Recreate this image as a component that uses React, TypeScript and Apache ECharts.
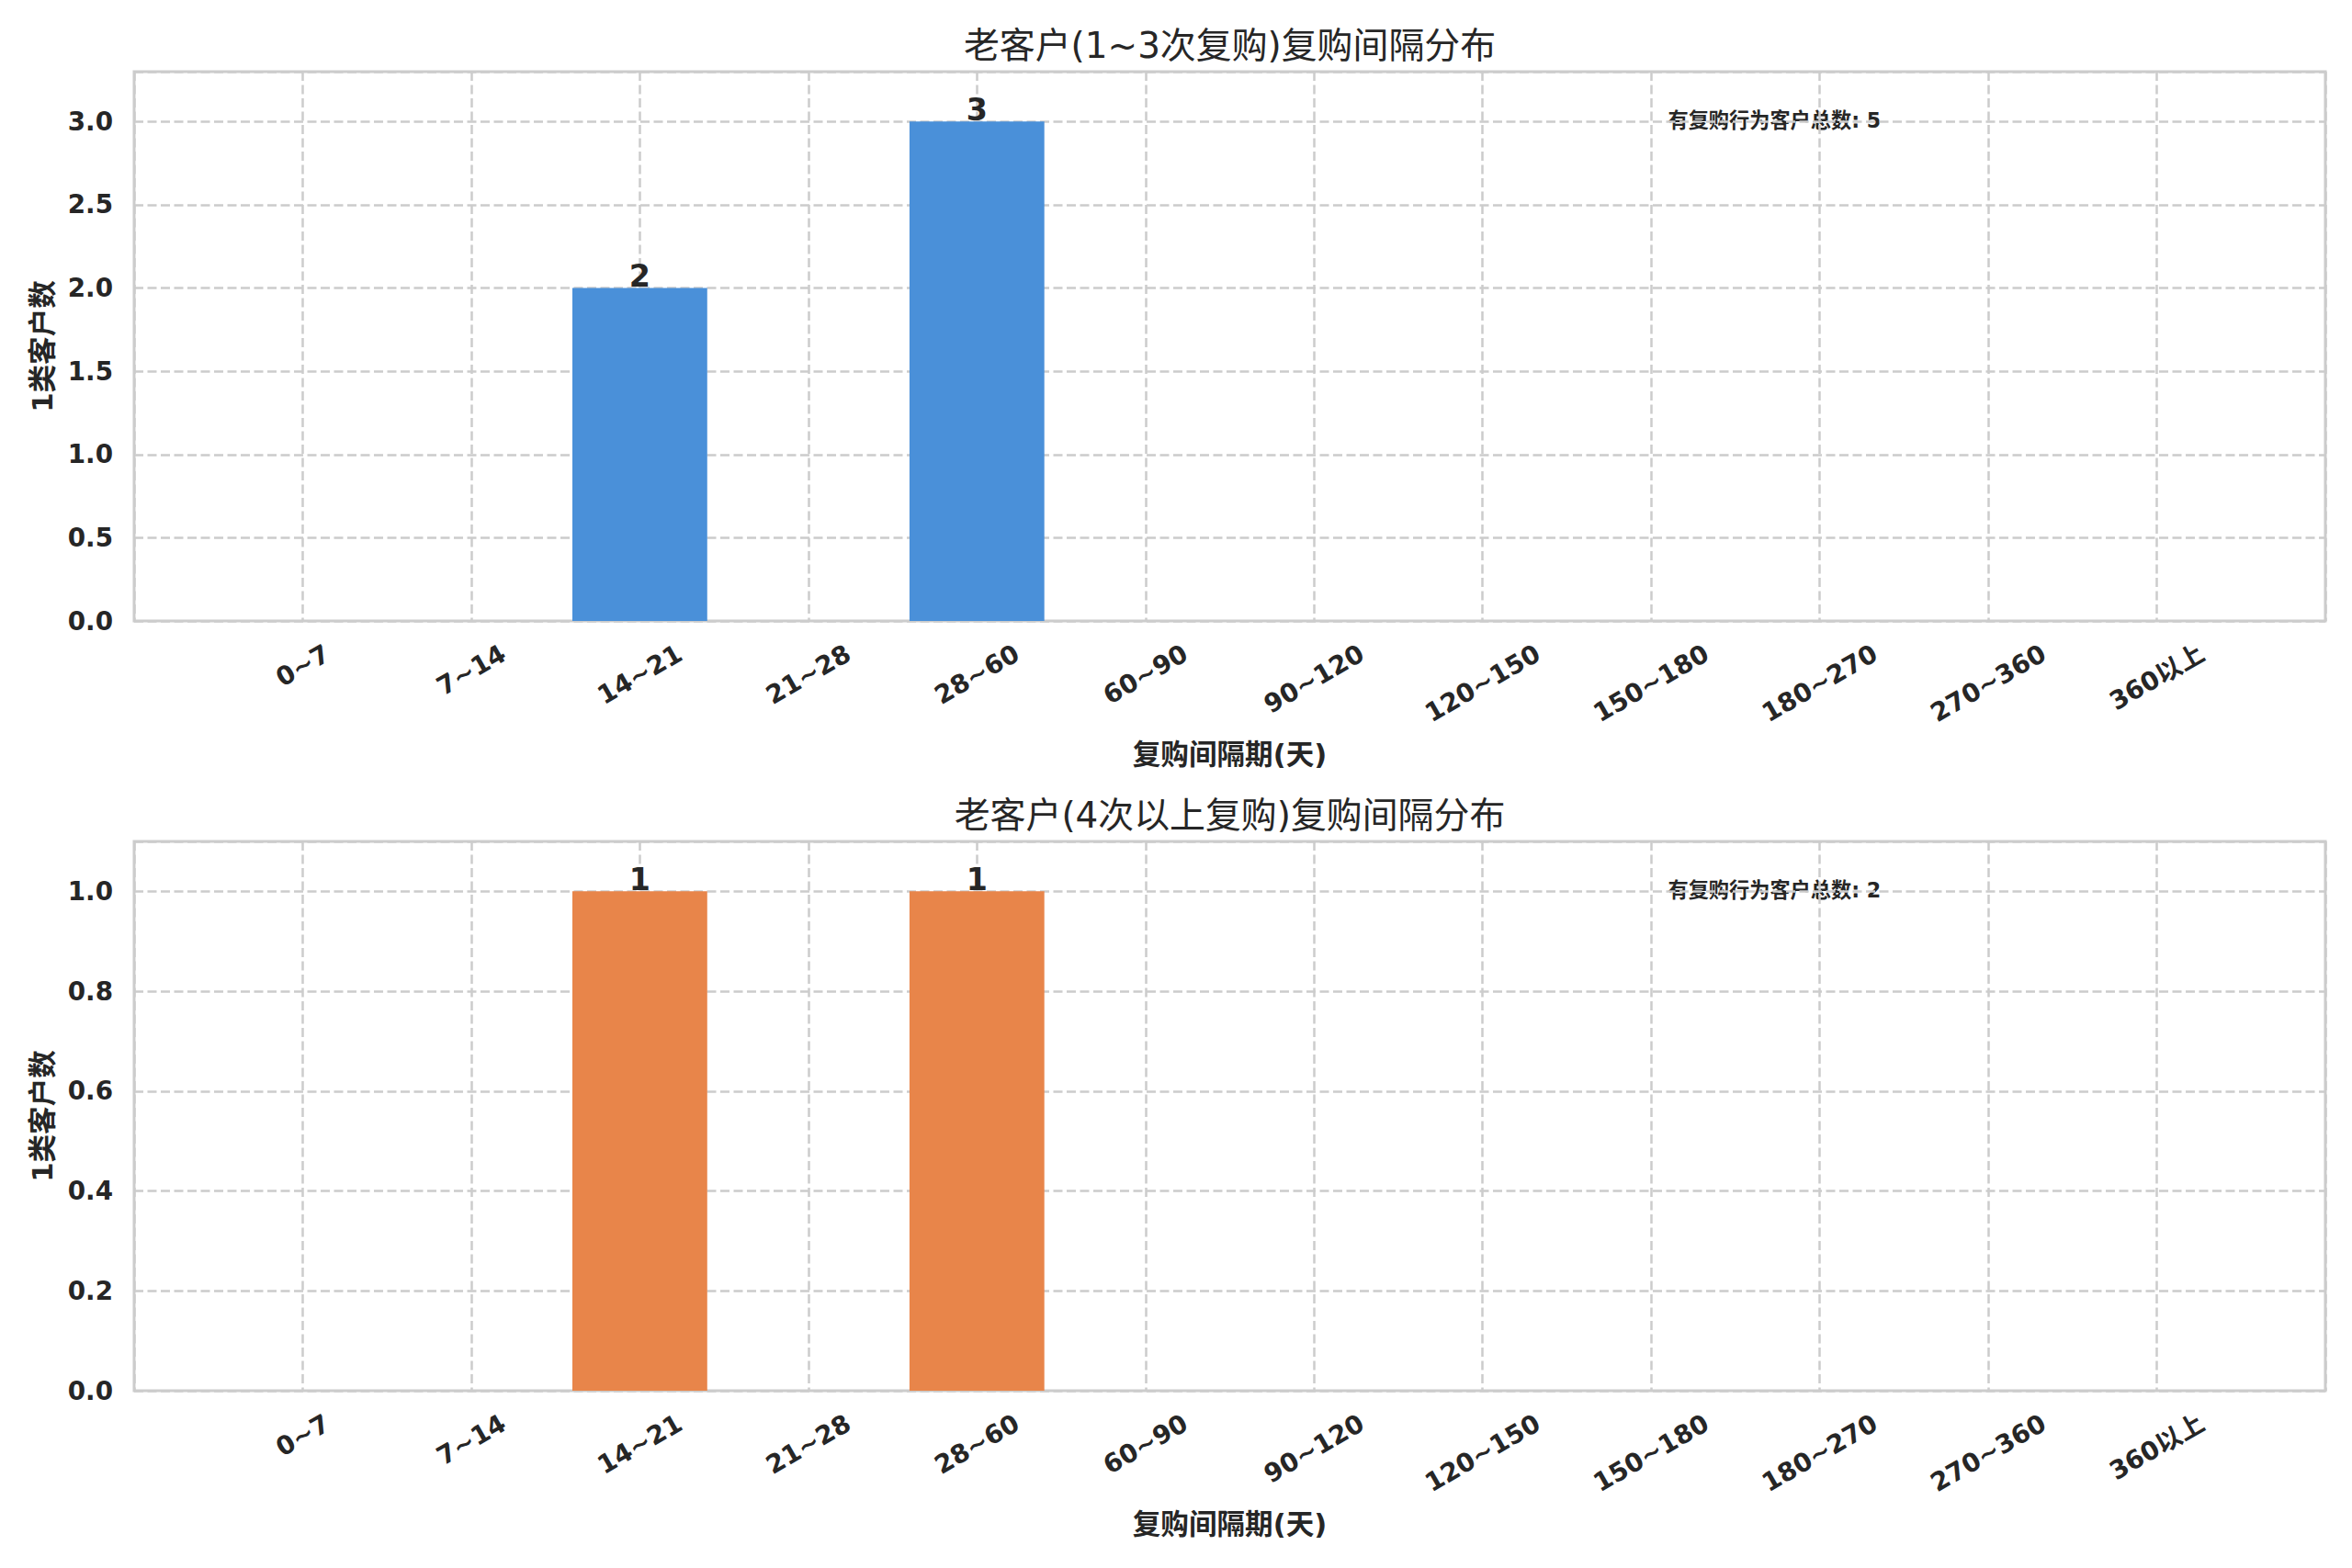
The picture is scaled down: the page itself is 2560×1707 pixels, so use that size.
import React, { useEffect, useRef } from 'react';
import * as echarts from 'echarts';

// ---------- data ----------
const categories = ['0~7', '7~14', '14~21', '21~28', '28~60', '60~90', '90~120', '120~150', '150~180', '180~270', '270~360', '360以上'];
const lowFreqCounts = [0, 0, 2, 0, 3, 0, 0, 0, 0, 0, 0, 0];
const highFreqCounts = [0, 0, 1, 0, 1, 0, 0, 0, 0, 0, 0, 0];
const panelTitles = ['老客户(1~3次复购)复购间隔分布', '老客户(4次以上复购)复购间隔分布'];
const xAxisTitle = '复购间隔期(天)';
const yAxisTitle = '1类客户数';
const totalLabel = '有复购行为客户总数';
const panelTotals = [5, 2];
const yMaxes = [3.3, 1.1];
const yIntervals = [0.5, 0.2];
const barColors = ['#4A90D9', '#E8854A'];

// ---------- layout / style ----------
const W = 2560;
const H = 1707;
const FONT = '"DejaVu Sans", "Noto Sans CJK SC", sans-serif';
const TEXT = '#262626';
const GRID_LEFT = 146;
const GRID_RIGHT = 29;
const GRID_TOPS = [78, 916];
const GRID_H = 598;
const TICK_FS = 27.8;

function measure(text: string, font: string): number {
  const c = document.createElement('canvas');
  const ctx = c.getContext('2d');
  if (!ctx) return text.length * 18;
  ctx.font = font;
  return ctx.measureText(text).width;
}

export default function App() {
  const ref = useRef<HTMLDivElement>(null);
  useEffect(() => {
    document.body.style.margin = '0';
    document.body.style.overflow = 'hidden';
    if (!ref.current) return;
    const chart = echarts.init(ref.current, undefined, { renderer: 'svg' });

    // emulate matplotlib's centred rotated tick labels (fixed bbox top)
    const rich: Record<string, any> = {};
    categories.forEach((c, i) => {
      const w = measure(c, `bold ${TICK_FS}px ${FONT}`);
      const d = w / 4;
      rich['r' + i] = {
        fontSize: TICK_FS,
        fontWeight: 'bold',
        fontFamily: FONT,
        color: TEXT,
        padding: [1.732 * d, d, 0, 0],
      };
    });

    const gridW = W - GRID_LEFT - GRID_RIGHT;
    const unit = gridW / 13;
    const barW = unit * 0.8;
    const dash = { color: '#cccccc', width: 2.5, type: [10, 4.5] as any };
    const series = [lowFreqCounts, highFreqCounts];

    const grids = GRID_TOPS.map((t) => ({
      left: GRID_LEFT,
      right: GRID_RIGHT,
      top: t,
      height: GRID_H,
      show: true,
      borderColor: '#cccccc',
      borderWidth: 3,
      backgroundColor: 'transparent',
    }));

    const xAxes = GRID_TOPS.map((_, i) => ({
      type: 'value',
      gridIndex: i,
      min: -1,
      max: 12,
      interval: 1,
      axisLine: { show: false },
      axisTick: { show: false },
      splitLine: { show: true, lineStyle: dash },
      axisLabel: {
        margin: 33,
        rotate: 30,
        align: 'center',
        verticalAlign: 'middle',
        formatter: (v: number) => {
          const k = Math.round(v);
          if (Math.abs(v - k) > 1e-6 || k < 0 || k >= categories.length) return '';
          return `{r${k}|${categories[k]}}`;
        },
        rich,
      },
      name: xAxisTitle,
      nameLocation: 'middle',
      nameGap: 130,
      nameTextStyle: { fontSize: 30.6, fontWeight: 'bold', color: TEXT, fontFamily: FONT },
    }));

    const yAxes = GRID_TOPS.map((_, i) => ({
      type: 'value',
      gridIndex: i,
      min: 0,
      max: yMaxes[i],
      interval: yIntervals[i],
      axisLine: { show: false },
      axisTick: { show: false },
      splitLine: { show: true, lineStyle: dash },
      axisLabel: {
        margin: 23,
        fontSize: TICK_FS,
        fontWeight: 'bold',
        color: TEXT,
        fontFamily: FONT,
        formatter: (v: number) => {
          const r = v / yIntervals[i];
          if (Math.abs(r - Math.round(r)) > 1e-6) return '';
          return v.toFixed(1);
        },
      },
      name: yAxisTitle,
      nameLocation: 'middle',
      nameRotate: 90,
      nameGap: 84,
      nameTextStyle: { fontSize: 30.6, fontWeight: 'bold', color: TEXT, fontFamily: FONT },
    }));

    const seriesOpts = series.map((vals, i) => ({
      type: 'bar',
      xAxisIndex: i,
      yAxisIndex: i,
      data: vals.map((v, k) => [k, v]),
      barWidth: barW,
      itemStyle: { color: barColors[i] },
      label: {
        show: true,
        position: 'top',
        distance: 0,
        offset: [0, 4],
        formatter: (p: any) => (p.value[1] > 0 ? String(p.value[1]) : ''),
        fontSize: 33.3,
        fontWeight: 'bold',
        color: TEXT,
        fontFamily: FONT,
      },
    }));

    const centerX = GRID_LEFT + gridW / 2;
    const graphics: any[] = [];
    GRID_TOPS.forEach((t, i) => {
      graphics.push({
        type: 'text',
        x: centerX,
        y: t - 29,
        style: {
          text: panelTitles[i],
          font: `38.9px ${FONT}`,
          fill: TEXT,
          align: 'center',
          verticalAlign: 'middle',
          textAlign: 'center',
          textVerticalAlign: 'middle',
        },
      });
      graphics.push({
        type: 'text',
        x: GRID_LEFT + gridW * 0.7,
        y: t + 53,
        style: {
          text: `${totalLabel}: ${panelTotals[i]}`,
          font: `bold 22.2px ${FONT}`,
          fill: TEXT,
          align: 'left',
          verticalAlign: 'middle',
          textAlign: 'left',
          textVerticalAlign: 'middle',
        },
      });
    });

    chart.setOption({
      animation: false,
      backgroundColor: '#ffffff',
      grid: grids,
      xAxis: xAxes,
      yAxis: yAxes,
      series: seriesOpts,
      graphic: graphics,
    });
    return () => chart.dispose();
  }, []);
  return (
    <div
      ref={ref}
      style={{ position: 'absolute', left: 0, top: 0, width: W, height: H, background: '#ffffff' }}
    />
  );
}
